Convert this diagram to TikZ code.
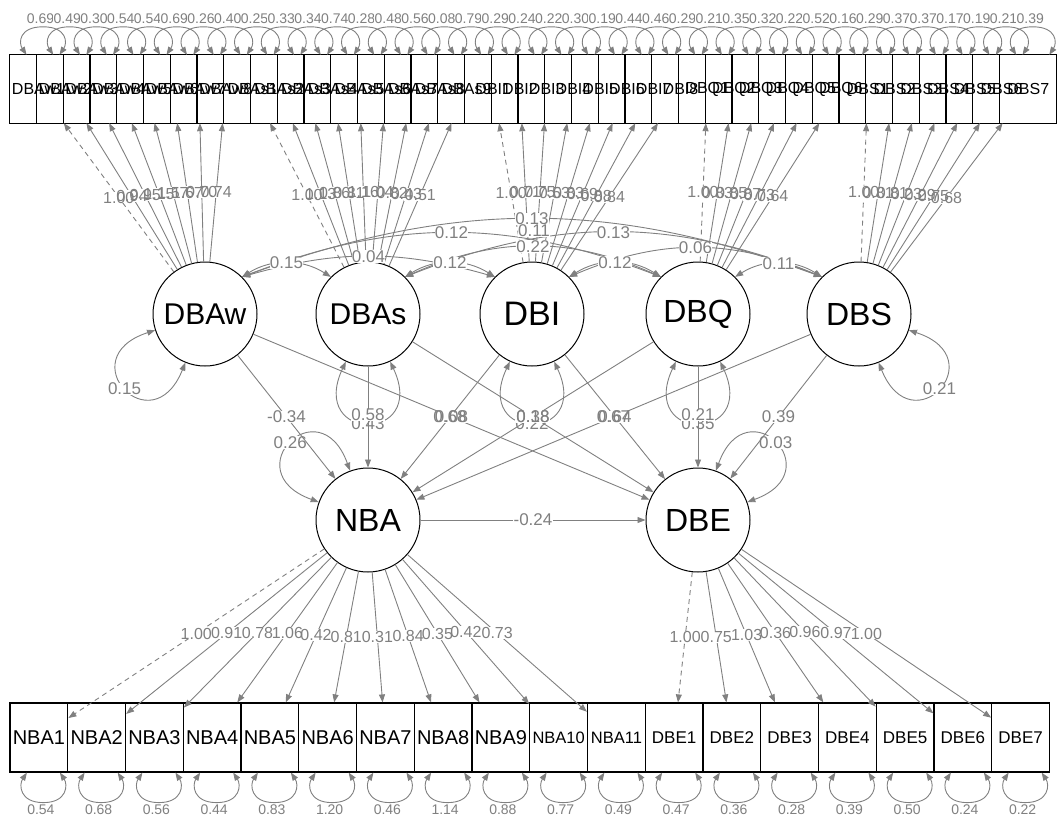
\documentclass[tikz,border=0pt]{standalone}
\usepackage{fontspec}
\setmainfont{Liberation Sans}
\usetikzlibrary{arrows.meta,calc}
\pgfdeclarelayer{boxes}
\pgfsetlayers{boxes,main}

\tikzset{
  >={Triangle[length=8pt,width=6pt]},
  lat/.style={circle, draw, line width=1pt, fill=white, minimum size=104pt, inner sep=0pt, font=\fontsize{30}{30}\selectfont},
  man/.style={rectangle, minimum width=57pt, minimum height=68pt, inner sep=0pt, font=\fontsize{16}{16}\selectfont},
  reg/.style={->, draw=gray, line width=0.9pt},
  fixed/.style={dash pattern=on 5pt off 4pt},
  cov/.style={<->, draw=gray, line width=0.9pt},
  elab/.style={fill=white, inner sep=0.3pt, text=gray, font=\fontsize{17}{17}\selectfont},
  rlab/.style={elab, font=\fontsize{14}{14}\selectfont},
  lbg/.style={fill=white, inner sep=0.3pt, font=\fontsize{16}{16}\selectfont},
  ltx/.style={inner sep=0.3pt, text=gray, font=\fontsize{16}{16}\selectfont},
}

% variance loop on a latent: node, direction, value
\newcommand{\latvar}[3]{%
  \draw[cov] (#1.\the\numexpr#2-25\relax) .. controls +(\the\numexpr#2-25\relax:90) and +(\the\numexpr#2+25\relax:90) .. (#1.\the\numexpr#2+25\relax);
  \node[elab] (#1v) at ($(#1)+(#2:110)$) {#3};}

% loadings: indicator / factor / estimate / line
\def\toploads{1/DBAw/1.00/fixed, 2/DBAw/0.94/solid, 3/DBAw/0.95/solid, 4/DBAw/1.15/solid, 5/DBAw/1.57/solid, 6/DBAw/1.67/solid, 7/DBAw/0.70/solid, 8/DBAw/0.74/solid,
  9/DBAs/1.00/fixed, 10/DBAs/1.13/solid, 11/DBAs/0.86/solid, 12/DBAs/0.81/solid, 13/DBAs/1.16/solid, 14/DBAs/1.04/solid, 15/DBAs/0.82/solid, 16/DBAs/0.43/solid, 17/DBAs/0.51/solid,
  18/DBI/1.00/fixed, 19/DBI/0.71/solid, 20/DBI/0.75/solid, 21/DBI/0.53/solid, 22/DBI/0.83/solid, 23/DBI/0.69/solid, 24/DBI/0.88/solid, 25/DBI/0.84/solid,
  26/DBQ/1.00/fixed, 27/DBQ/0.83/solid, 28/DBQ/0.85/solid, 29/DBQ/0.87/solid, 30/DBQ/0.73/solid, 31/DBQ/0.64/solid,
  32/DBS/1.00/fixed, 33/DBS/0.81/solid, 34/DBS/0.81/solid, 35/DBS/0.23/solid, 36/DBS/0.29/solid, 37/DBS/0.75/solid, 38/DBS/0.68/solid}
\def\botloads{1/NBA/1.00/fixed, 2/NBA/0.91/solid, 3/NBA/0.78/solid, 4/NBA/1.06/solid, 5/NBA/0.42/solid, 6/NBA/0.81/solid,
  7/NBA/0.31/solid, 8/NBA/0.84/solid, 9/NBA/0.35/solid, 10/NBA/0.42/solid, 11/NBA/0.73/solid,
  12/DBE/1.00/fixed, 13/DBE/0.75/solid, 14/DBE/1.03/solid, 15/DBE/0.36/solid, 16/DBE/0.96/solid, 17/DBE/0.97/solid, 18/DBE/1.00/solid}
% regressions: from / to / estimate / shift
\def\regs{DBAw/DBE/0.08/0, DBAs/DBE/0.18/0, DBI/DBE/0.64/0, DBS/NBA/0.67/0, DBQ/NBA/0.38/0, DBI/NBA/0.68/0,
  DBAw/NBA/-0.34/0, DBAs/NBA/0.58/2, DBQ/DBE/0.21/2, DBS/DBE/0.39/0, NBA/DBE/-0.24/0}

\begin{document}
\begin{tikzpicture}[x=1pt, y=1pt]
  \useasboundingbox (0,0) rectangle (1057,-816);

  % top indicators
  \foreach \lab/\rv [count=\k] in {DBAw1/0.69, DBAw2/0.49, DBAw3/0.30, DBAw4/0.54, DBAw5/0.54, DBAw6/0.69, DBAw7/0.26, DBAw8/0.40,
      DBAs1/0.25, DBAs2/0.33, DBAs3/0.34, DBAs4/0.74, DBAs5/0.28, DBAs6/0.48, DBAs7/0.56, DBAs8/0.08, DBAs9/0.79,
      DBI1/0.29, DBI2/0.24, DBI3/0.22, DBI4/0.30, DBI5/0.19, DBI6/0.44, DBI7/0.46, DBI8/0.29,
      DBQ1/0.21, DBQ2/0.35, DBQ3/0.32, DBQ4/0.22, DBQ5/0.52, DBQ6/0.16,
      DBS1/0.29, DBS2/0.37, DBS3/0.37, DBS4/0.17, DBS5/0.19, DBS6/0.21, DBS7/0.39} {
    \pgfmathsetmacro\cx{38.5+26.75*(\k-1)}
    \node[man] (t\k) at (\cx,-89) {\lab};
    \begin{pgfonlayer}{boxes}
      \draw[line width=1.2pt, fill=white] (t\k.south west) rectangle (t\k.north east);
    \end{pgfonlayer}
    \draw[cov] ([xshift=-12pt]t\k.north) .. controls +(-8,12) and +(-24,0) .. ++(16.5,28)
      .. controls +(24,0) and +(8,12) .. ([xshift=21pt]t\k.north);
    \node[rlab] (tr\k) at ([xshift=2pt,yshift=36pt]t\k.north) {\rv};
  }

  % bottom indicators
  \foreach \lab/\rv/\fs [count=\k] in {NBA1/0.54/20, NBA2/0.68/20, NBA3/0.56/20, NBA4/0.44/20, NBA5/0.83/20, NBA6/1.20/20,
      NBA7/0.46/20, NBA8/1.14/20, NBA9/0.88/20, NBA10/0.77/16.5, NBA11/0.49/16.5,
      DBE1/0.47/17, DBE2/0.36/17, DBE3/0.28/17, DBE4/0.39/17, DBE5/0.50/17, DBE6/0.24/17, DBE7/0.22/17} {
    \pgfmathsetmacro\cx{38.9+57.75*(\k-1)}
    \node[man, draw, line width=1.2pt, minimum width=57.75pt, minimum height=69pt, font=\fontsize{\fs}{\fs}\selectfont] (b\k) at (\cx,-737.5) {\lab};
    \draw[cov] ([xshift=-12pt]b\k.south) .. controls +(-8,-12) and +(-24,0) .. ++(16.5,-30)
      .. controls +(24,0) and +(8,-12) .. ([xshift=21pt]b\k.south);
    \node[rlab] (br\k) at ([xshift=2pt,yshift=-37pt]b\k.south) {\rv};
  }

  % latent variables
  \node[lat] (DBAw) at (205,-314) {DBAw};
  \node[lat] (DBAs) at (368,-314) {DBAs};
  \node[lat, font=\fontsize{34}{34}\selectfont] (DBI) at (532,-314) {DBI};
  \node[lat, font=\fontsize{32}{32}\selectfont] (DBQ) at (698,-314) {DBQ};
  \node[lat, font=\fontsize{32}{32}\selectfont] (DBS) at (859,-314) {DBS};
  \node[lat, font=\fontsize{32}{32}\selectfont] (NBA) at (368,-520) {NBA};
  \node[lat, font=\fontsize{32}{32}\selectfont] (DBE) at (698,-520) {DBE};

  % loadings
  \foreach \k/\f/\v/\s in \toploads
    \draw[reg, \s] (\f) -- node[lbg] (la\k) {\phantom{\v}} (t\k);
  \foreach \k/\f/\v/\s in \botloads
    \draw[reg, \s] (\f) -- node[lbg] (lb\k) {\phantom{\v}} (b\k);

  % covariances
  \draw[cov] (DBAw.north east) to[bend left=20] node[elab] (c5) {0.13} (DBS.north west);
  \draw[cov] (DBAw.north east) to[bend left=21] node[elab] (c4) {0.12} (DBQ.north west);
  \draw[cov] (DBAs.north east) to[bend left=21.5] node[elab] (c7) {0.13} (DBS.north west);
  \draw[cov] (DBAw.north east) to[bend left=16] node[elab] (c3) {0.04} (DBI.north west);
  \draw[cov] (DBAs.north east) to[bend left=24] node[elab] (c6) {0.22} (DBQ.north west);
  \draw[cov] (DBI.north east) to[bend left=23] node[elab] (c8) {0.06} (DBS.north west);
  \draw[cov] (DBAw.north east) to[bend left=32] node[elab] (c1) {0.15} (DBAs.north west);
  \draw[cov] (DBAs.north east) to[bend left=32] node[elab] (c2) {0.12} (DBI.north west);
  \draw[cov] (DBI.north east) to[bend left=32] node[elab] (c9) {0.12} (DBQ.north west);
  \draw[cov] (DBQ.north east) to[bend left=32] node[elab] (c10) {0.11} (DBS.north west);
  \node[elab] (c11) at (534,-231) {0.11};

  % variances
  \latvar{DBAw}{223}{0.15}
  \latvar{DBAs}{270}{0.43}
  \latvar{DBI}{270}{0.22}
  \latvar{DBQ}{270}{0.35}
  \latvar{DBS}{317}{0.21}
  \latvar{NBA}{135}{0.26}
  \latvar{DBE}{45}{0.03}

  % regressions
  \foreach \a/\b/\v/\y [count=\n] in \regs
    \draw[reg] (\a) -- node[lbg, yshift=\y pt, font=\fontsize{17}{17}\selectfont] (r\n) {\phantom{\v}} (\b);

  % estimates on top of their backgrounds
  \foreach \k/\f/\v/\s in \toploads \node[ltx] (lat\k) at (la\k) {\v};
  \foreach \k/\f/\v/\s in \botloads \node[ltx] (lbt\k) at (lb\k) {\v};
  \foreach \a/\b/\v/\y [count=\n] in \regs \node[ltx, font=\fontsize{17}{17}\selectfont] (rt\n) at (r\n) {\v};
\end{tikzpicture}
\end{document}
